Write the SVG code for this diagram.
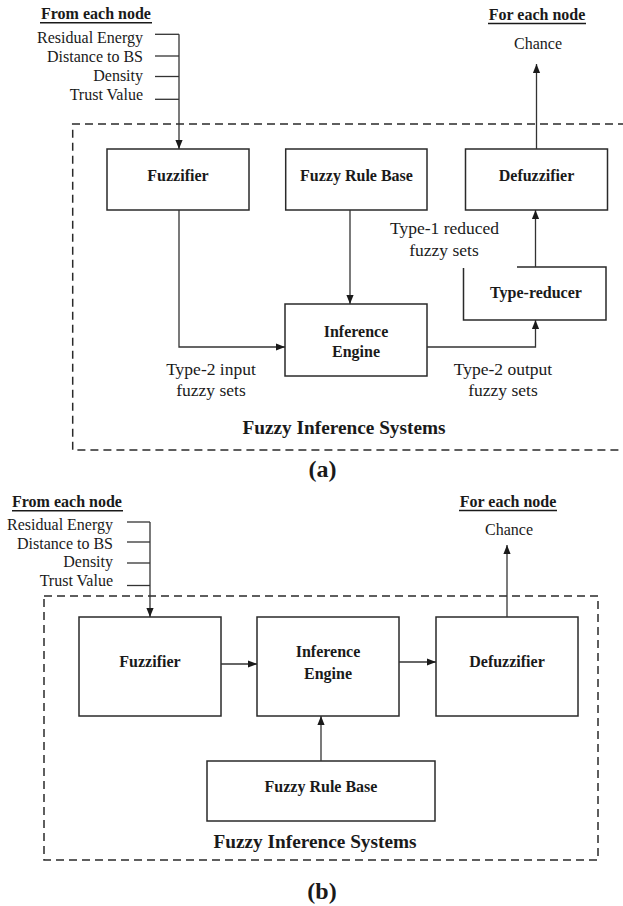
<svg xmlns="http://www.w3.org/2000/svg" width="623" height="906" viewBox="0 0 623 906">
<defs>
<marker id="ah" viewBox="0 0 10 8" refX="10" refY="4" markerWidth="9" markerHeight="8" markerUnits="userSpaceOnUse" orient="auto">
<path d="M0,0 L10,4 L0,8 z" fill="#1a1a1a"/>
</marker>
<style>
.box{fill:none;stroke:#2a2a2a;stroke-width:1.5}
.dash{fill:none;stroke:#2a2a2a;stroke-width:1.5;stroke-dasharray:8 5}
.ln{fill:none;stroke:#333;stroke-width:1.3}
.ar{fill:none;stroke:#333;stroke-width:1.3;marker-end:url(#ah)}
.ul{stroke:#1a1a1a;stroke-width:1.4}
text{font-family:"Liberation Serif","Times New Roman",serif;fill:#1a1a1a}
.b{font-weight:bold;font-size:16px;text-anchor:middle}
.in{font-size:16px;text-anchor:end}
.c{font-size:16px;text-anchor:middle}
.lb{font-size:17.5px;text-anchor:middle}
.ttl{font-weight:bold;font-size:19.3px;text-anchor:middle}
.cap{font-weight:bold;font-size:24px;text-anchor:middle}
</style>
</defs>

<!-- ===== Panel (a) ===== -->
<g id="a-frame">
<path class="dash" d="M626,124 H72.7 V450 H626"/>
<text class="ttl" x="344" y="434">Fuzzy Inference Systems</text>
<text class="cap" x="322.5" y="477">(a)</text>
</g>
<g id="a-inputs">
<text class="b" x="96" y="19">From each node</text>
<line class="ul" x1="40" y1="22.7" x2="152" y2="22.7"/>
<text class="in" x="143" y="42.5">Residual Energy</text>
<text class="in" x="143" y="61.5">Distance to BS</text>
<text class="in" x="143" y="80.5">Density</text>
<text class="in" x="143" y="99.5">Trust Value</text>
</g>
<g id="a-outputs">
<text class="b" x="537" y="20">For each node</text>
<line class="ul" x1="488" y1="23.5" x2="586" y2="23.5"/>
<text class="c" x="538" y="48.5">Chance</text>
</g>
<g id="a-fuzzifier">
<rect class="box" x="107" y="149" width="142" height="61"/>
<text class="b" x="178" y="181">Fuzzifier</text>
</g>
<g id="a-rulebase">
<rect class="box" x="285.7" y="149" width="141.3" height="61"/>
<text class="b" x="356.5" y="181">Fuzzy Rule Base</text>
</g>
<g id="a-defuzzifier">
<rect class="box" x="465.5" y="149" width="142" height="61"/>
<text class="b" x="536.5" y="181">Defuzzifier</text>
</g>
<g id="a-inference">
<rect class="box" x="285" y="304" width="142" height="72"/>
<text class="b" x="356" y="336.5">Inference</text>
<text class="b" x="356" y="356.5">Engine</text>
</g>
<g id="a-typereducer">
<path class="box" d="M517,267 H606 V320 H463.5 V268"/>
<text class="b" x="536" y="298">Type-reducer</text>
</g>
<g id="a-labels">
<text class="lb" x="444.5" y="233.5">Type-1 reduced</text>
<text class="lb" x="444" y="255.5">fuzzy sets</text>
<text class="lb" x="211" y="375">Type-2 input</text>
<text class="lb" x="211" y="396">fuzzy sets</text>
<text class="lb" x="503" y="375">Type-2 output</text>
<text class="lb" x="503" y="396">fuzzy sets</text>
</g>
<g id="a-connectors">
<line class="ln" x1="155" y1="34.3" x2="179" y2="34.3"/>
<line class="ln" x1="155" y1="56" x2="179" y2="56"/>
<line class="ln" x1="155" y1="76.5" x2="179" y2="76.5"/>
<line class="ln" x1="155" y1="99.3" x2="179" y2="99.3"/>
<path class="ar" d="M179,34.3 V149"/>
<path class="ar" d="M536.5,149 V64"/>
<path class="ar" d="M179,210 V347 H285"/>
<path class="ar" d="M350,210 V304"/>
<path class="ar" d="M427,347 H535.5 V320"/>
<path class="ar" d="M535.5,267 V210"/>
</g>

<!-- ===== Panel (b) ===== -->
<g id="b-frame">
<rect class="dash" x="44" y="596" width="554" height="264"/>
<text class="ttl" x="315" y="848">Fuzzy Inference Systems</text>
<text class="cap" x="322" y="899">(b)</text>
</g>
<g id="b-inputs">
<text class="b" x="67" y="507">From each node</text>
<line class="ul" x1="12" y1="510.7" x2="123" y2="510.7"/>
<text class="in" x="113" y="530">Residual Energy</text>
<text class="in" x="113" y="548.5">Distance to BS</text>
<text class="in" x="113" y="567">Density</text>
<text class="in" x="113" y="586">Trust Value</text>
</g>
<g id="b-outputs">
<text class="b" x="508" y="507">For each node</text>
<line class="ul" x1="459" y1="510.5" x2="557" y2="510.5"/>
<text class="c" x="509" y="535">Chance</text>
</g>
<g id="b-fuzzifier">
<rect class="box" x="79" y="617" width="142" height="99"/>
<text class="b" x="150" y="667">Fuzzifier</text>
</g>
<g id="b-inference">
<rect class="box" x="257" y="617" width="142" height="99"/>
<text class="b" x="328" y="656.5">Inference</text>
<text class="b" x="328" y="678.5">Engine</text>
</g>
<g id="b-defuzzifier">
<rect class="box" x="436" y="617" width="142" height="99"/>
<text class="b" x="507" y="667">Defuzzifier</text>
</g>
<g id="b-rulebase">
<rect class="box" x="207" y="761" width="228" height="60"/>
<text class="b" x="321" y="792">Fuzzy Rule Base</text>
</g>
<g id="b-connectors">
<line class="ln" x1="127" y1="522" x2="150" y2="522"/>
<line class="ln" x1="127" y1="542" x2="150" y2="542"/>
<line class="ln" x1="127" y1="563" x2="150" y2="563"/>
<line class="ln" x1="127" y1="585.5" x2="150" y2="585.5"/>
<path class="ar" d="M150,522 V617"/>
<path class="ar" d="M507,617 V545"/>
<path class="ar" d="M221,664 H257"/>
<path class="ar" d="M399,662 H436"/>
<path class="ar" d="M321,761 V716"/>
</g>
</svg>
